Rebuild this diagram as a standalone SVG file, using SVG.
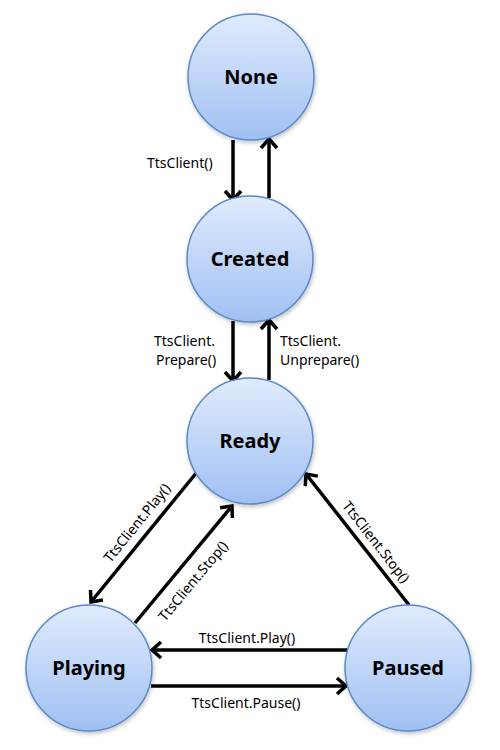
<svg xmlns="http://www.w3.org/2000/svg" width="500" height="750" viewBox="0 0 500 750">
<style>
.node circle{fill:url(#g);stroke:#5a89c8;stroke-width:1.5;filter:url(#sh)}
.node text{font-family:"Noto Sans","DejaVu Sans",sans-serif;font-weight:bold;font-size:20px;fill:#000;text-anchor:middle}
.edge line{stroke:#000;stroke-width:3.5;marker-end:url(#ah)}
.lbl{font-family:"Noto Sans","DejaVu Sans",sans-serif;font-size:14px;fill:#000}
</style>
<defs>
<linearGradient id="g" x1="0" y1="0" x2="0" y2="1">
<stop offset="0" stop-color="#e0ebfd"/>
<stop offset="1" stop-color="#a0c0f3"/>
</linearGradient>
<filter id="sh" x="-20%" y="-20%" width="140%" height="140%">
<feGaussianBlur in="SourceAlpha" stdDeviation="2"/>
<feOffset dx="1" dy="2"/>
<feComponentTransfer><feFuncA type="linear" slope="0.25"/></feComponentTransfer>
<feMerge><feMergeNode/><feMergeNode in="SourceGraphic"/></feMerge>
</filter>
<marker id="ah" markerUnits="userSpaceOnUse" markerWidth="30" markerHeight="30" refX="0" refY="0" viewBox="-15 -15 30 30" orient="auto">
<path d="M-9,-8 L0,0 L-9,8" fill="none" stroke="#000" stroke-width="3.5"/>
</marker>
</defs>
<g id="connectors" class="edge">
<line x1="233" y1="140" x2="233" y2="200"/>
<line x1="269" y1="198" x2="269" y2="139"/>
<line x1="233" y1="321" x2="233" y2="381"/>
<line x1="269" y1="380" x2="269" y2="320"/>
<line x1="197" y1="472" x2="91" y2="602"/>
<line x1="135" y1="623" x2="232" y2="506"/>
<line x1="409" y1="605" x2="306" y2="474"/>
<line x1="348" y1="650" x2="152" y2="650"/>
<line x1="151" y1="686" x2="346" y2="686"/>
</g>
<g id="labels" class="lbl">
<text x="147" y="168">TtsClient()</text>
<text x="154" y="346">TtsClient.</text>
<text x="156" y="365">Prepare()</text>
<text x="280" y="346">TtsClient.</text>
<text x="280" y="365">Unprepare()</text>
<text transform="translate(137,523) rotate(-51)" text-anchor="middle" dy="0.35em">TtsClient.Play()</text>
<text transform="translate(193,581) rotate(-50)" text-anchor="middle" dy="0.35em">TtsClient.Stop()</text>
<text transform="translate(376,542) rotate(52)" text-anchor="middle" dy="0.35em">TtsClient.Stop()</text>
<text x="247" y="643" text-anchor="middle">TtsClient.Play()</text>
<text x="246" y="708" text-anchor="middle">TtsClient.Pause()</text>
</g>
<g id="none" class="node"><circle cx="251" cy="77" r="63"/><text x="251" y="84">None</text></g>
<g id="created" class="node"><circle cx="250" cy="259" r="63"/><text x="250" y="266">Created</text></g>
<g id="ready" class="node"><circle cx="250" cy="441" r="63"/><text x="250" y="448">Ready</text></g>
<g id="playing" class="node"><circle cx="89" cy="668" r="63"/><text x="89" y="675">Playing</text></g>
<g id="paused" class="node"><circle cx="408" cy="668" r="63"/><text x="408" y="675">Paused</text></g>
</svg>
